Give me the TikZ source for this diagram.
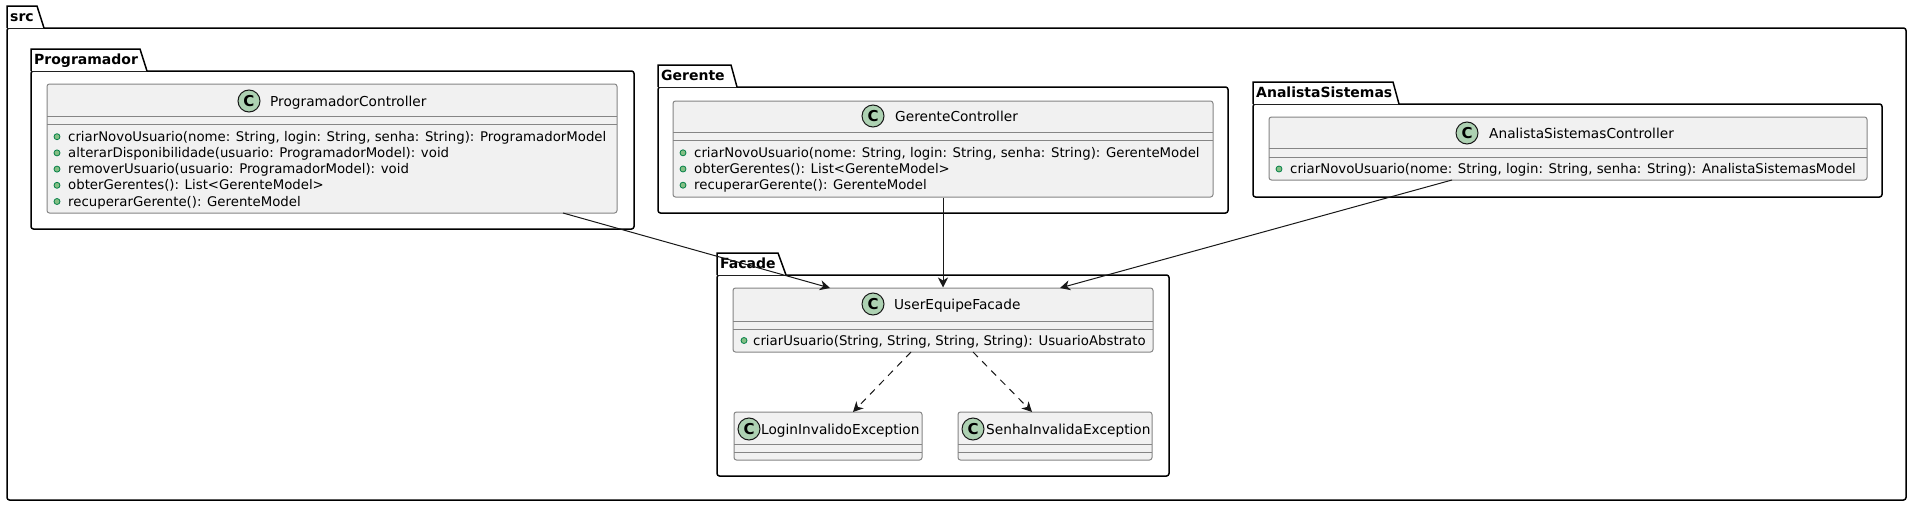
\documentclass[tikz,border=0pt]{standalone}
\usepackage{fontspec}
\setmainfont{DejaVu Sans}
\usetikzlibrary{arrows.meta,fit}
\definecolor{cfill}{HTML}{F1F1F1}
\definecolor{cline}{HTML}{181818}
\definecolor{cborder}{HTML}{858585}
\definecolor{circfill}{HTML}{ADD1B2}
\definecolor{dotfill}{HTML}{84BE84}
\definecolor{dotline}{HTML}{038048}
\begin{document}
\begin{tikzpicture}[x=1pt,y=-1pt,
  pkbody/.style={draw=black, line width=1.5pt, fill=white, rounded corners=2.5pt, inner sep=0pt},
  pktab/.style={draw=black, line width=1.5pt, fill=white},
  pklabel/.style={font=\fontsize{14}{16}\selectfont\bfseries, anchor=base west, inner sep=0pt},
  cbox/.style={draw=cborder, line width=1pt, fill=cfill, rounded corners=2.5pt, inner sep=0pt},
  sepline/.style={draw=cborder, line width=1pt},
  cicon/.style={circle, draw=cline, line width=1pt, fill=circfill, minimum size=22pt, inner sep=0pt, font=\fontsize{15}{15}\selectfont\bfseries},
  cname/.style={font=\fontsize{13.7}{16}\selectfont, anchor=base west, inner sep=0pt},
  meth/.style={font=\fontsize{13.3}{16}\selectfont, anchor=base west, inner sep=0pt},
  mdot/.style={circle, draw=dotline, fill=dotfill, line width=0.8pt, minimum size=6pt, inner sep=0pt},
  assoc/.style={draw=cline, line width=1pt, -{Stealth[length=10pt,width=10pt,inset=3pt]}},
  dep/.style={assoc, dash pattern=on 7pt off 6pt}
]
\useasboundingbox (0,0) rectangle (1912,506);

% ---------- package src ----------
\node[pkbody, fit={(7,28)(1906,500)}] (src) {};
\draw[pktab] (7,28) -- (7,6) -- (37,6) -- (44,28);
\node[pklabel] (srcl) at (10,21) {src};

% ---------- package Programador ----------
\node[pkbody, fit={(31,71)(634,229)}] (pprog) {};
\draw[pktab] (31,71) -- (31,49) -- (140,49) -- (147,71);
\node[pklabel] (pprogl) at (34,64) {Programador};

\node[cbox, fit={(47,84)(617,213)}] (pc) {};
\draw[sepline] (47,116) -- (617,116);
\draw[sepline] (47,124) -- (617,124);
\node[cicon] (pcc) at (249,101) {C};
\node[cname] (pcn) at (270,106) {ProgramadorController};
\foreach \i/\t in {0/{criarNovoUsuario(nome: String, login: String, senha: String): ProgramadorModel},
                   1/{alterarDisponibilidade(usuario: ProgramadorModel): void},
                   2/{removerUsuario(usuario: ProgramadorModel): void},
                   3/{obterGerentes(): List<GerenteModel>},
                   4/{recuperarGerente(): GerenteModel}}{
  \node[mdot] (pcd\i) at (57,136.7+16.2*\i) {};
  \node[meth] (pcm\i) at (68,141.2+16.2*\i) {\t};
}

% ---------- package Gerente ----------
\node[pkbody, fit={(658,87)(1228,213)}] (pger) {};
\draw[pktab] (658,87) -- (658,65) -- (731,65) -- (737,87);
\node[pklabel] (pgerl) at (661,80) {Gerente};

\node[cbox, fit={(673,101)(1213,197)}] (gc) {};
\draw[sepline] (673,132) -- (1213,132);
\draw[sepline] (673,140) -- (1213,140);
\node[cicon] (gcc) at (873,116) {C};
\node[cname] (gcn) at (895,121) {GerenteController};
\foreach \i/\t in {0/{criarNovoUsuario(nome: String, login: String, senha: String): GerenteModel},
                   1/{obterGerentes(): List<GerenteModel>},
                   2/{recuperarGerente(): GerenteModel}}{
  \node[mdot] (gcd\i) at (683,152.8+16.2*\i) {};
  \node[meth] (gcm\i) at (694,157.3+16.2*\i) {\t};
}

% ---------- package AnalistaSistemas ----------
\node[pkbody, fit={(1253,104)(1882,197)}] (pana) {};
\draw[pktab] (1253,104) -- (1253,82) -- (1393,82) -- (1399,104);
\node[pklabel] (panal) at (1256,97) {AnalistaSistemas};

\node[cbox, fit={(1269,117)(1867,180)}] (ac) {};
\draw[sepline] (1269,148) -- (1867,148);
\draw[sepline] (1269,157) -- (1867,157);
\node[cicon] (acc) at (1467,133) {C};
\node[cname] (acn) at (1489,138) {AnalistaSistemasController};
\node[mdot] (acd0) at (1279,169) {};
\node[meth] (acm0) at (1290,173.5) {criarNovoUsuario(nome: String, login: String, senha: String): AnalistaSistemasModel};

% ---------- package Facade ----------
\node[pkbody, fit={(717,275)(1169,476)}] (pfac) {};
\draw[pktab] (717,275) -- (717,253) -- (778,253) -- (786,275);
\node[pklabel] (pfacl) at (720,268) {Facade};

\node[cbox, fit={(733,288)(1153,352)}] (uf) {};
\draw[sepline] (733,321) -- (1153,321);
\draw[sepline] (733,329) -- (1153,329);
\node[cicon] (ufc) at (873,304) {C};
\node[cname] (ufn) at (894,309) {UserEquipeFacade};
\node[mdot] (ufd0) at (744,340.5) {};
\node[meth] (ufm0) at (753,345) {criarUsuario(String, String, String, String): UsuarioAbstrato};

\node[cbox, fit={(734,412)(922,460)}] (le) {};
\draw[sepline] (734,444) -- (922,444);
\draw[sepline] (734,452) -- (922,452);
\node[cicon] (lec) at (749,429) {C};
\node[cname] (len) at (761,434) {LoginInvalidoException};

\node[cbox, fit={(958,412)(1152,460)}] (se) {};
\draw[sepline] (958,444) -- (1152,444);
\draw[sepline] (958,452) -- (1152,452);
\node[cicon] (sec) at (973,429) {C};
\node[cname] (sen) at (986,434) {SenhaInvalidaException};

% ---------- connectors ----------
\coordinate (a1s) at (563,213);
\coordinate (a1e) at (830,288);
\coordinate (a3s) at (1452,180);
\coordinate (a3e) at (1060,288);
\coordinate (d1s) at (911,352);
\coordinate (d1e) at (853,412);
\coordinate (d2s) at (973,352);
\coordinate (d2e) at (1032,412);
\draw[assoc] (a1s) -- (a1e);
\draw[assoc] (gc.south) -- (uf.north);
\draw[assoc] (a3s) -- (a3e);
\draw[dep] (d1s) -- (d1e);
\draw[dep] (d2s) -- (d2e);
\end{tikzpicture}
\end{document}
